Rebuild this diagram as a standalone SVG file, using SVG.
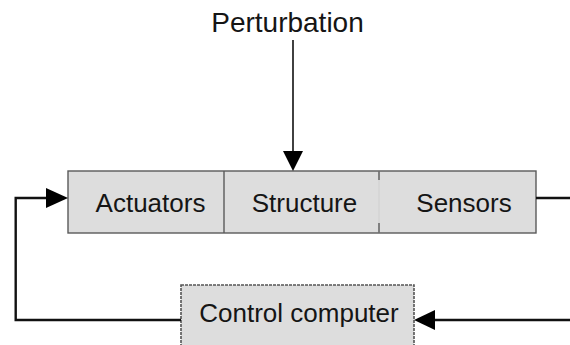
<svg xmlns="http://www.w3.org/2000/svg" width="570" height="345" viewBox="0 0 570 345">
  <style>
    .lbl { font-family: "Liberation Sans", Arial, sans-serif; font-size: 26px; fill: #151515; text-anchor: middle; }
    .title { font-size: 28px; }
    .cell { fill: #dddddd; stroke: #5a5a5a; stroke-width: 1.4; }
    .ctrl { fill: #dddddd; stroke: #555555; stroke-width: 1.6; stroke-dasharray: 3 1; }
    .wire { fill: none; stroke: #111111; stroke-width: 2.4; }
    .thin { fill: none; stroke: #111111; stroke-width: 1.6; }
    .head { fill: #000000; }
  </style>

  <!-- plant: actuators | structure | sensors -->
  <g id="plant">
    <rect class="cell" x="68" y="171" width="468" height="62"/>
    <line x1="224" y1="171" x2="224" y2="233" stroke="#5a5a5a" stroke-width="1.4"/>
    <line x1="379" y1="171" x2="379" y2="233" stroke="#cfcfcf" stroke-width="1"/>
    <line x1="379" y1="171" x2="379" y2="180" stroke="#5a5a5a" stroke-width="1.4"/>
    <line x1="379" y1="223" x2="379" y2="233" stroke="#5a5a5a" stroke-width="1.4"/>
  </g>
  <g id="actuators"><text class="lbl" x="150.5" y="212">Actuators</text></g>
  <g id="structure"><text class="lbl" x="304.5" y="212">Structure</text></g>
  <g id="sensors"><text class="lbl" x="464" y="212">Sensors</text></g>

  <!-- controller -->
  <g id="control-computer">
    <rect class="ctrl" x="181" y="285" width="233" height="62"/>
    <text class="lbl" x="299" y="322">Control computer</text>
  </g>

  <!-- disturbance input -->
  <g id="perturbation">
    <text class="lbl title" x="287.5" y="32">Perturbation</text>
  </g>

  <!-- signal paths -->
  <g id="connectors">
    <line class="thin" x1="293" y1="40" x2="293" y2="153"/>
    <polygon class="head" points="283,151 303,151 293,171"/>

    <polyline class="wire" points="536,198 570,198"/>

    <polyline class="wire" points="570,320 433,320"/>
    <polygon class="head" points="435,310 435,330 414,320"/>

    <polyline class="wire" points="181,320 15.7,320 15.7,198 48,198"/>
    <polygon class="head" points="46,188 46,208 68,198"/>
  </g>
</svg>
